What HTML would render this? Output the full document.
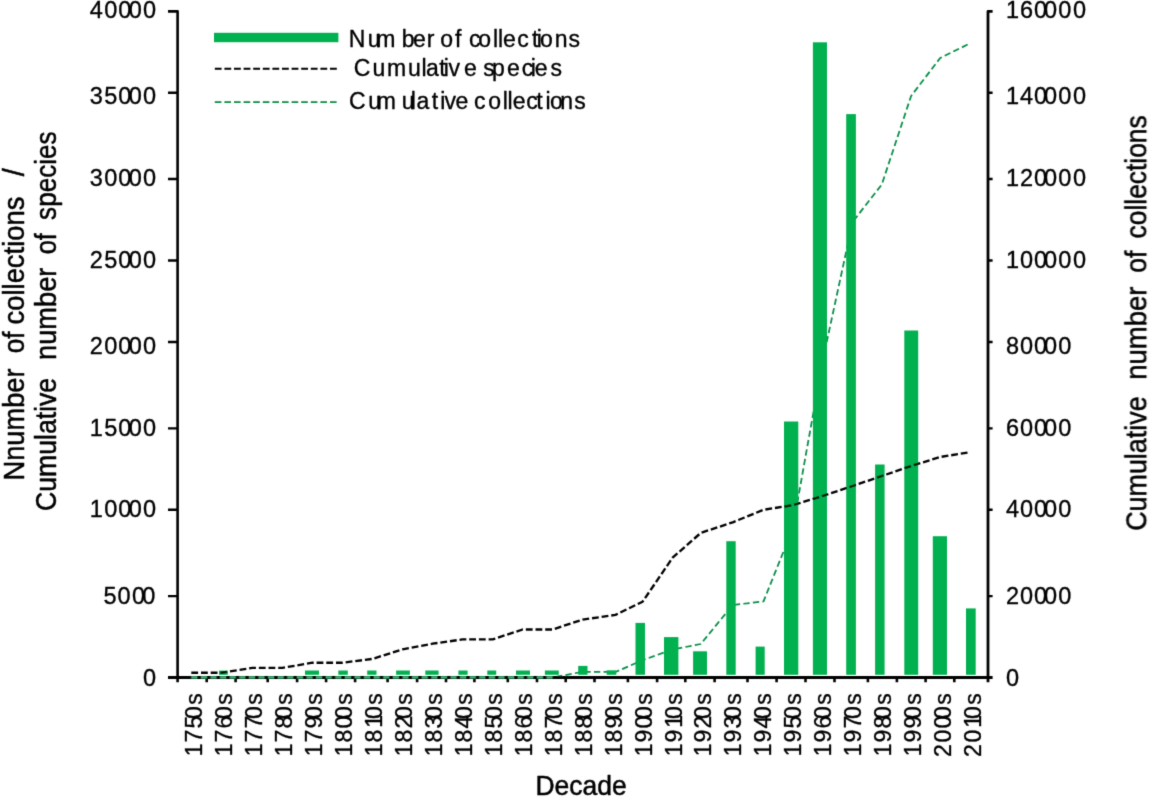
<!DOCTYPE html>
<html lang="en"><head><meta charset="utf-8"><title>Collections per decade</title>
<style>html,body{margin:0;padding:0;background:#fff}svg{display:block;will-change:transform;opacity:.999}text{stroke:#000;stroke-width:.35px;stroke-linejoin:round}text.b{stroke-width:.5px}</style></head>
<body>
<svg width="1149" height="799" viewBox="0 0 1149 799" font-family="Liberation Sans, Arial, sans-serif" fill="#000">
<defs><filter id="soft" x="0" y="0" width="1149" height="799" filterUnits="userSpaceOnUse"><feConvolveMatrix order="3" kernelMatrix="1 6 1 6 36 6 1 6 1" edgeMode="duplicate" preserveAlpha="false"/></filter></defs>
<rect width="1149" height="799" fill="#fff"/>
<g filter="url(#soft)">
<polyline points="552.6,677.5 582.6,671.8 615.5,672 642.6,660.2 672.6,649.5 700.8,644 732.7,605 763.5,601.4 792.6,529 822.6,361 852.6,222 881.8,184.5 911.1,96 940.2,58 968,44.4" fill="none" stroke="#078C45" stroke-width="1.75" stroke-dasharray="6.3 3.3" stroke-dashoffset="6.1" stroke-linejoin="round"/>
<g fill="#00B050">
<rect x="219" y="670.6" width="8.8" height="4.2"/>
<rect x="305" y="670.5" width="14" height="4.3"/>
<rect x="338.3" y="670.5" width="9.5" height="4.3"/>
<rect x="367.2" y="670.5" width="9.3" height="4.3"/>
<rect x="396.1" y="670.5" width="13.8" height="4.3"/>
<rect x="425.3" y="670.5" width="13.3" height="4.3"/>
<rect x="458.4" y="670.5" width="9.2" height="4.3"/>
<rect x="487.3" y="670.5" width="8.9" height="4.3"/>
<rect x="516" y="670.5" width="14" height="4.3"/>
<rect x="544.9" y="670.5" width="13.9" height="4.3"/>
<rect x="578.2" y="665.9" width="9.3" height="8.9"/>
<rect x="606.7" y="670.3" width="9.6" height="4.5"/>
<rect x="635.5" y="622.9" width="9.5" height="51.9"/>
<rect x="664" y="637.1" width="14.4" height="37.7"/>
<rect x="693.1" y="651.3" width="13.9" height="23.5"/>
<rect x="726.3" y="541.2" width="9.4" height="133.6"/>
<rect x="755.6" y="646.6" width="9.1" height="28.2"/>
<rect x="784" y="421.5" width="14.3" height="253.3"/>
<rect x="812.9" y="42.3" width="14.1" height="632.5"/>
<rect x="846.2" y="114.1" width="9.7" height="560.7"/>
<rect x="875.1" y="464.5" width="9.5" height="210.3"/>
<rect x="904.3" y="330.5" width="13.9" height="344.3"/>
<rect x="932.8" y="536.2" width="14.2" height="138.6"/>
<rect x="966" y="608.4" width="9.7" height="66.4"/>
</g>
<g stroke="#000" fill="none" stroke-linecap="butt" stroke-linejoin="round">
<path d="M168 11.4 H177.6 V682.3" stroke-width="2.6"/>
<path d="M992.6 11.4 H988.0 V682.3" stroke-width="2.8"/>
<path d="M168 677.5 H992.6" stroke-width="2.8"/>
<path d="M168 92.8H177.6M168 179.0H177.6M168 260.5H177.6M168 342.0H177.6M168 428.4H177.6M168 509.8H177.6M168 596.1H177.6" stroke-width="2.4"/>
<path d="M988.0 92.8H992.6M988.0 179.0H992.6M988.0 260.5H992.6M988.0 342.0H992.6M988.0 428.4H992.6M988.0 509.8H992.6M988.0 596.1H992.6" stroke-width="2.4"/>
<path d="M206.7 677.5V682.3M235.6 677.5V682.3M267.7 677.5V682.3M297.1 677.5V682.3M326.1 677.5V682.3M355.1 677.5V682.3M387.6 677.5V682.3M417.1 677.5V682.3M446.0 677.5V682.3M474.4 677.5V682.3M507.8 677.5V682.3M537.0 677.5V682.3M565.7 677.5V682.3M594.5 677.5V682.3M627.9 677.5V682.3M657.1 677.5V682.3M685.3 677.5V682.3M714.6 677.5V682.3M747.5 677.5V682.3M776.6 677.5V682.3M805.5 677.5V682.3M834.5 677.5V682.3M867.9 677.5V682.3M896.9 677.5V682.3M925.6 677.5V682.3M954.3 677.5V682.3" stroke-width="2.6"/>
</g>
<line x1="191.3" y1="677.4" x2="552.6" y2="677.4" stroke="#35B570" stroke-width="2.3" stroke-dasharray="6 3.6"/>
<polyline points="191.3,672.7 222,672.7 252.3,667.9 282.4,667.9 312.5,662.7 342.5,662.7 372.5,658.9 402.6,649.3 432.6,643.7 462.6,639.4 492.6,639.4 522.6,629.5 552.6,629.5 582.6,619.6 615.5,614.9 642.6,601.7 672.6,557.7 700.8,532.9 732.7,522.3 763.5,509.8 792.6,505.2 822.6,496 852.6,486 881.8,476 911.1,466 940.2,457 968,452.5" fill="none" stroke="#000" stroke-width="2.35" stroke-dasharray="6.8 2.9" stroke-linejoin="round"/>
<rect x="214" y="32.8" width="124.4" height="9.4" fill="#00B050"/>
<line x1="214.8" y1="68.7" x2="336.8" y2="68.7" stroke="#000" stroke-width="2.1" stroke-dasharray="6.8 2.8"/>
<line x1="214.8" y1="102" x2="336.8" y2="102" stroke="#078C45" stroke-width="1.75" stroke-dasharray="6.6 3"/>
<text x="348.81 367.81 376.27 401.82 413.02 426.67 434.33 440.23 454.97 461.36 469.02 478.23 492.95 498.05 503.12 517.32 532.05 536.66 539.93 554.67 568.56" y="46.9" font-size="23" >Number of collections</text>
<text x="353.83 372.41 387.07 408.01 421.55 426.02 439.15 443.76 448.42 463.92 476.71 483.36 491.92 507.12 521.82 530.86 534.82 550.46" y="75.5" font-size="23" >Cumulative species</text>
<text x="348.93 368.21 376.87 401.81 410.75 416.42 431.75 440.16 444.52 455.52 468.31 474.02 488.33 502.85 507.55 512.72 526.22 536.15 545.46 550.03 560.17 574.16" y="109.1" font-size="23" >Cumulative collections</text>
<text x="89.8 104.3 118.2 128.7 142.9" y="18.4" font-size="23.5" >40000</text>
<text x="89.8 104.3 118.2 128.7 142.9" y="103.9" font-size="23.5" >35000</text>
<text x="89.8 104.3 118.2 128.7 142.9" y="186.2" font-size="23.5" >30000</text>
<text x="89.8 104.3 118.2 128.7 142.9" y="268" font-size="23.5" >25000</text>
<text x="89.8 104.3 118.2 128.7 142.9" y="354.1" font-size="23.5" >20000</text>
<text x="89.8 104.3 118.2 128.7 142.9" y="436.4" font-size="23.5" >15000</text>
<text x="89.8 104.3 118.2 128.7 142.9" y="517.2" font-size="23.5" >10000</text>
<text x="103.6 117.5 132.1 142.2" y="603.6" font-size="23.5" >5000</text>
<text x="143" y="685.6" font-size="23.5" >0</text>
<text x="1006.1 1020.1 1033.9 1043.9 1058.3 1073.1" y="18.4" font-size="23.5" >160000</text>
<text x="1006.1 1020.1 1033.9 1043.9 1058.3 1073.1" y="103.9" font-size="23.5" >140000</text>
<text x="1006.1 1020.1 1033.9 1043.9 1058.3 1073.1" y="186.2" font-size="23.5" >120000</text>
<text x="1006.1 1020.1 1033.9 1043.9 1058.3 1073.1" y="268" font-size="23.5" >100000</text>
<text x="1006.1 1020.1 1033.9 1043.9 1058.3" y="354.1" font-size="23.5" >80000</text>
<text x="1006.1 1020.1 1033.9 1043.9 1058.3" y="436.4" font-size="23.5" >60000</text>
<text x="1006.1 1020.1 1033.9 1043.9 1058.3" y="517.2" font-size="23.5" >40000</text>
<text x="1006.1 1020.1 1033.9 1043.9 1058.3" y="603.6" font-size="23.5" >20000</text>
<text x="1006.1" y="685.6" font-size="23.5" >0</text>
<g transform="translate(202.3 756.9) rotate(-90)">
<text x="0.7 14.4 28.5 38 52.2" y="0" font-size="23" >1750s</text>
</g>
<g transform="translate(232.25 756.9) rotate(-90)">
<text x="0.7 14.4 28.5 38 52.2" y="0" font-size="23" >1760s</text>
</g>
<g transform="translate(262.2 756.9) rotate(-90)">
<text x="0.7 14.4 28.5 38 52.2" y="0" font-size="23" >1770s</text>
</g>
<g transform="translate(292.15 756.9) rotate(-90)">
<text x="0.7 14.4 28.5 38 52.2" y="0" font-size="23" >1780s</text>
</g>
<g transform="translate(322.1 756.9) rotate(-90)">
<text x="0.7 14.4 28.5 38 52.2" y="0" font-size="23" >1790s</text>
</g>
<g transform="translate(352.05 756.9) rotate(-90)">
<text x="0.7 14.4 28.5 38 52.2" y="0" font-size="23" >1800s</text>
</g>
<g transform="translate(382 756.9) rotate(-90)">
<text x="0.7 14.4 29.2 38 52.2" y="0" font-size="23" >1810s</text>
</g>
<g transform="translate(411.95 756.9) rotate(-90)">
<text x="0.7 14.4 28.5 38 52.2" y="0" font-size="23" >1820s</text>
</g>
<g transform="translate(441.9 756.9) rotate(-90)">
<text x="0.7 14.4 28.5 38 52.2" y="0" font-size="23" >1830s</text>
</g>
<g transform="translate(471.85 756.9) rotate(-90)">
<text x="0.7 14.4 28.5 38 52.2" y="0" font-size="23" >1840s</text>
</g>
<g transform="translate(501.8 756.9) rotate(-90)">
<text x="0.7 14.4 28.5 38 52.2" y="0" font-size="23" >1850s</text>
</g>
<g transform="translate(531.75 756.9) rotate(-90)">
<text x="0.7 14.4 28.5 38 52.2" y="0" font-size="23" >1860s</text>
</g>
<g transform="translate(561.7 756.9) rotate(-90)">
<text x="0.7 14.4 28.5 38 52.2" y="0" font-size="23" >1870s</text>
</g>
<g transform="translate(591.65 756.9) rotate(-90)">
<text x="0.7 14.4 28.5 38 52.2" y="0" font-size="23" >1880s</text>
</g>
<g transform="translate(621.6 756.9) rotate(-90)">
<text x="0.7 14.4 28.5 38 52.2" y="0" font-size="23" >1890s</text>
</g>
<g transform="translate(651.55 756.9) rotate(-90)">
<text x="0.7 14.4 28.5 38 52.2" y="0" font-size="23" >1900s</text>
</g>
<g transform="translate(681.5 756.9) rotate(-90)">
<text x="0.7 14.4 29.2 38 52.2" y="0" font-size="23" >1910s</text>
</g>
<g transform="translate(711.45 756.9) rotate(-90)">
<text x="0.7 14.4 28.5 38 52.2" y="0" font-size="23" >1920s</text>
</g>
<g transform="translate(741.4 756.9) rotate(-90)">
<text x="0.7 14.4 28.5 38 52.2" y="0" font-size="23" >1930s</text>
</g>
<g transform="translate(771.35 756.9) rotate(-90)">
<text x="0.7 14.4 28.5 38 52.2" y="0" font-size="23" >1940s</text>
</g>
<g transform="translate(801.3 756.9) rotate(-90)">
<text x="0.7 14.4 28.5 38 52.2" y="0" font-size="23" >1950s</text>
</g>
<g transform="translate(831.25 756.9) rotate(-90)">
<text x="0.7 14.4 28.5 38 52.2" y="0" font-size="23" >1960s</text>
</g>
<g transform="translate(861.2 756.9) rotate(-90)">
<text x="0.7 14.4 28.5 38 52.2" y="0" font-size="23" >1970s</text>
</g>
<g transform="translate(891.15 756.9) rotate(-90)">
<text x="0.7 14.4 28.5 38 52.2" y="0" font-size="23" >1980s</text>
</g>
<g transform="translate(921.1 756.9) rotate(-90)">
<text x="0.7 14.4 28.5 38 52.2" y="0" font-size="23" >1990s</text>
</g>
<g transform="translate(951.05 756.9) rotate(-90)">
<text x="0 14.4 28.5 38 52.2" y="0" font-size="23" >2000s</text>
</g>
<g transform="translate(981 756.9) rotate(-90)">
<text x="0 14.4 29.2 38 52.2" y="0" font-size="23" >2010s</text>
</g>
<text x="535.4" y="794.6" font-size="28" textLength="91.3" lengthAdjust="spacingAndGlyphs" class="b">Decade</text>
<g transform="translate(23.8 600) rotate(-90)">
<text x="119.62" y="0" font-size="29" textLength="111.86" lengthAdjust="spacingAndGlyphs" class="b">Nnumber</text>
<text x="246.68" y="0" font-size="29" textLength="21.88" lengthAdjust="spacingAndGlyphs" class="b">of</text>
<text x="275.57" y="0" font-size="29" textLength="127.78" lengthAdjust="spacingAndGlyphs" class="b">collections</text>
<text x="423.7" y="0" font-size="29" textLength="7.9" lengthAdjust="spacingAndGlyphs" class="b">/</text>
</g>
<g transform="translate(55.6 600) rotate(-90)">
<text x="89.03" y="0" font-size="29" textLength="133.16" lengthAdjust="spacingAndGlyphs" class="b">Cumulative</text>
<text x="240.07" y="0" font-size="29" textLength="92.31" lengthAdjust="spacingAndGlyphs" class="b">number</text>
<text x="345.68" y="0" font-size="29" textLength="21.28" lengthAdjust="spacingAndGlyphs" class="b">of</text>
<text x="380.09" y="0" font-size="29" textLength="88.55" lengthAdjust="spacingAndGlyphs" class="b">species</text>
</g>
<g transform="translate(1146.3 600) rotate(-90)">
<text x="69.13" y="0" font-size="29" textLength="134.46" lengthAdjust="spacingAndGlyphs" class="b">Cumulative</text>
<text x="220.17" y="0" font-size="29" textLength="93.21" lengthAdjust="spacingAndGlyphs" class="b">number</text>
<text x="327.28" y="0" font-size="29" textLength="22.18" lengthAdjust="spacingAndGlyphs" class="b">of</text>
<text x="361.57" y="0" font-size="29" textLength="123.18" lengthAdjust="spacingAndGlyphs" class="b">collections</text>
</g>
</g>
</svg>
</body></html>
